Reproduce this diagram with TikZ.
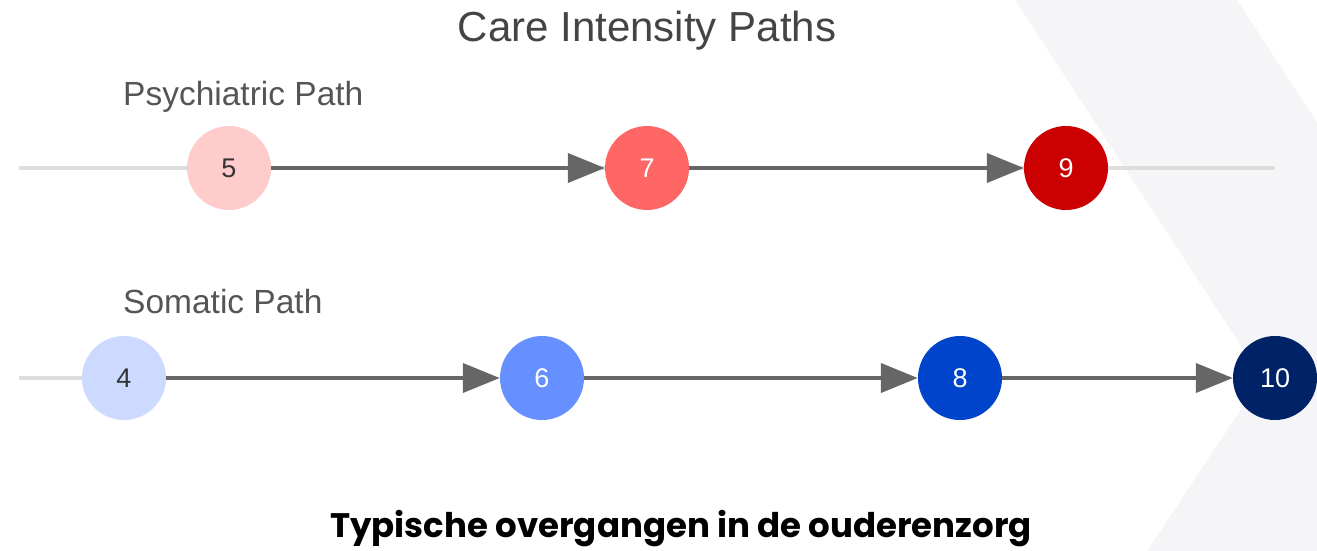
\documentclass[tikz,border=0pt]{standalone}
\usepackage{fontspec}
\setmainfont{Liberation Sans}
\newfontfamily\popfont{Poppins}
\usetikzlibrary{arrows.meta}
\definecolor{bgshape}{HTML}{F5F5F8}
\definecolor{trackgrey}{HTML}{DDDDDD}
\definecolor{edgegrey}{HTML}{666666}
\definecolor{titlegrey}{HTML}{444444}
\definecolor{labelgrey}{HTML}{555555}
\definecolor{dark}{HTML}{333333}
\definecolor{pA}{HTML}{FFCCCC}
\definecolor{pB}{HTML}{FF6666}
\definecolor{pC}{HTML}{CC0000}
\definecolor{sA}{HTML}{CCDAFF}
\definecolor{sB}{HTML}{6690FF}
\definecolor{sC}{HTML}{0044CC}
\definecolor{sD}{HTML}{002266}
\tikzset{
  stage/.style={circle, minimum size=84pt, inner sep=0pt, font=\fontsize{27}{31}\selectfont},
  track/.style={draw=trackgrey, line width=4pt},
  flow/.style={draw=edgegrey, line width=4pt, -{Triangle[length=37pt,width=29pt]}},
  pathlabel/.style={anchor=base west, text=labelgrey, font=\fontsize{33.5}{38}\selectfont, inner sep=0pt},
}
\begin{document}
\begin{tikzpicture}[x=1pt,y=-1pt]
\useasboundingbox (0,0) rectangle (1317,551);
\fill[bgshape] (1015,0) -- (1237,0) -- (1317,122) -- (1317,551) -- (1147,551) -- (1262,378) -- cycle;
\coordinate (t1s) at (19,168);
\coordinate (t1e) at (1275,168);
\coordinate (t2s) at (19,378);
\draw[track] (t1s) -- (t1e);
\node[stage, fill=pA, text=dark] (n5) at (229,168) {5};
\node[stage, fill=pB, text=white] (n7) at (647,168) {7};
\node[stage, fill=pC, text=white] (n9) at (1066,168) {9};
\node[stage, fill=sA, text=dark] (n4) at (124,378) {4};
\draw[track] (t2s) -- (n4.west);
\node[stage, fill=sB, text=white] (n6) at (542,378) {6};
\node[stage, fill=sC, text=white] (n8) at (960,378) {8};
\node[stage, fill=sD, text=white] (n10) at (1275,378) {10};
\draw[flow] (n5) -- (n7);
\draw[flow] (n7) -- (n9);
\draw[flow] (n4) -- (n6);
\draw[flow] (n6) -- (n8);
\draw[flow] (n8) -- (n10);
\node[anchor=base, text=titlegrey, font=\fontsize{42}{48}\selectfont, inner sep=0pt] (title) at (647,42) {Care Intensity Paths};
\node[pathlabel] (lp) at (123,105) {Psychiatric Path};
\node[pathlabel] (ls) at (123,313) {Somatic Path};
\node[anchor=base, text=black, font=\popfont\bfseries\fontsize{34}{40}\selectfont, inner sep=0pt] (foot) at (681,537) {Typische overgangen in de ouderenzorg};
\end{tikzpicture}
\end{document}
